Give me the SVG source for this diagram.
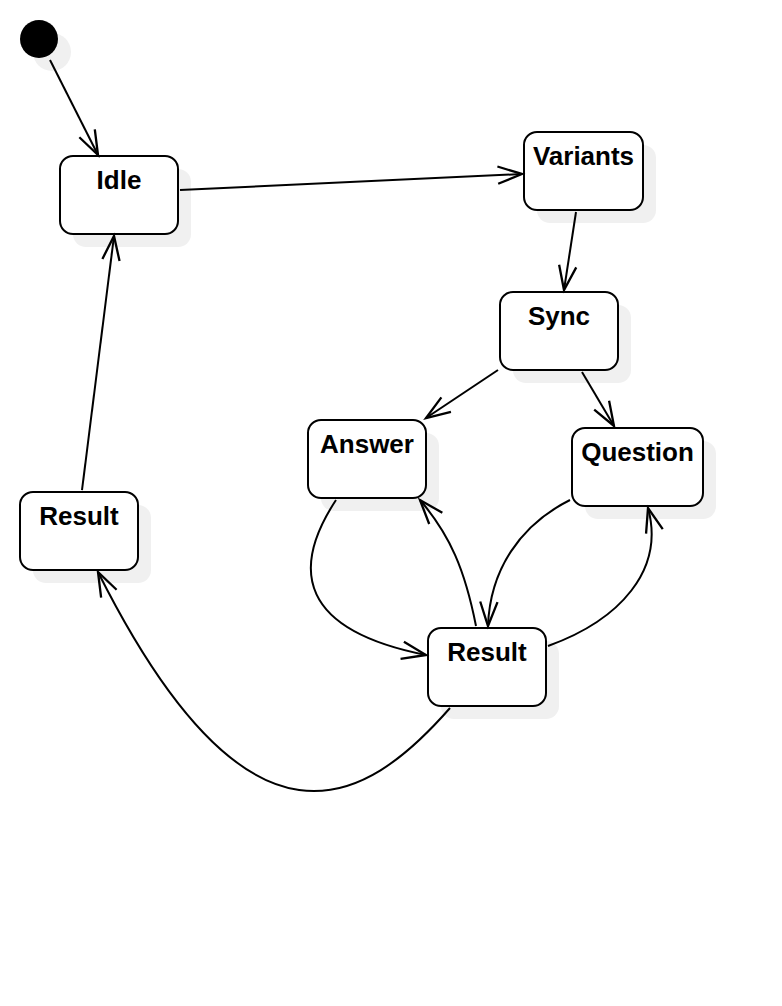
<svg xmlns="http://www.w3.org/2000/svg" width="782" height="1006" viewBox="0 0 782 1006">
<style>
.shadow{fill:#f0f0f0;stroke:none}
.box{fill:#fff;stroke:#000;stroke-width:2}
.lbl{font-family:"Liberation Sans",Arial,sans-serif;font-weight:bold;font-size:26px;text-anchor:middle;fill:#000}
.edge{fill:none;stroke:#000;stroke-width:2;marker-end:url(#arr)}
</style>
<defs>
<marker id="arr" markerUnits="userSpaceOnUse" markerWidth="30" markerHeight="30" viewBox="-2 -10 26 20" refX="21" refY="0" orient="auto" overflow="visible">
<path d="M0,-7.5 L21,0 L0,7.5" fill="none" stroke="#000" stroke-width="2"/>
</marker>
</defs>
<rect width="782" height="1006" fill="#fff"/>
<g id="initial">
<circle cx="52" cy="52" r="19" class="shadow"/>
<circle cx="39" cy="39" r="19" fill="#000"/>
</g>
<g id="idle">
<rect x="73" y="169" width="118" height="78" rx="13" class="shadow"/>
<rect x="60" y="156" width="118" height="78" rx="13" class="box"/>
<text x="119" y="189" class="lbl">Idle</text>
</g>
<g id="variants">
<rect x="537" y="145" width="119" height="78" rx="13" class="shadow"/>
<rect x="524" y="132" width="119" height="78" rx="13" class="box"/>
<text x="583.5" y="165" class="lbl">Variants</text>
</g>
<g id="sync">
<rect x="513" y="305" width="118" height="78" rx="13" class="shadow"/>
<rect x="500" y="292" width="118" height="78" rx="13" class="box"/>
<text x="559" y="325" class="lbl">Sync</text>
</g>
<g id="answer">
<rect x="321" y="433" width="118" height="78" rx="13" class="shadow"/>
<rect x="308" y="420" width="118" height="78" rx="13" class="box"/>
<text x="367" y="453" class="lbl">Answer</text>
</g>
<g id="question">
<rect x="585" y="441" width="131" height="78" rx="13" class="shadow"/>
<rect x="572" y="428" width="131" height="78" rx="13" class="box"/>
<text x="637.5" y="461" class="lbl">Question</text>
</g>
<g id="result-left">
<rect x="33" y="505" width="118" height="78" rx="13" class="shadow"/>
<rect x="20" y="492" width="118" height="78" rx="13" class="box"/>
<text x="79" y="525" class="lbl">Result</text>
</g>
<g id="result-bottom">
<rect x="441" y="641" width="118" height="78" rx="13" class="shadow"/>
<rect x="428" y="628" width="118" height="78" rx="13" class="box"/>
<text x="487" y="661" class="lbl">Result</text>
</g>
<g id="connectors">
<path class="edge" d="M50,60 L98,155"/>
<path class="edge" d="M180,190 L522,174"/>
<path class="edge" d="M576,212 L564,290"/>
<path class="edge" d="M498,370 L426,418"/>
<path class="edge" d="M582,372 L614,426"/>
<path class="edge" d="M336,500 C290,570 300,630 426,655"/>
<path class="edge" d="M476,626 C465,570 450,535 420,500"/>
<path class="edge" d="M570,500 C520,525 490,570 488,626"/>
<path class="edge" d="M548,646 C620,620 665,570 648,508"/>
<path class="edge" d="M450,708 C365,805 250,875 98,572"/>
<path class="edge" d="M82,490 L114,236"/>
</g>
</svg>
